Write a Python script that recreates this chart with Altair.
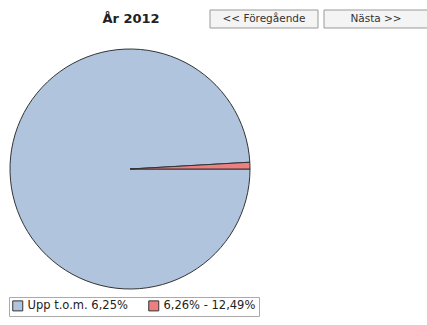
import altair as alt
import pandas as pd

categories = ["Upp t.o.m. 6,25%", "6,26% - 12,49%"]
values = [99.1, 0.9]
colors = ["#B0C4DE", "#EE7F80"]
title_text = "År 2012"
buttons = ["<< Föregående", "Nästa >>"]

df = pd.DataFrame({"kat": categories, "v": values, "ord": [0, 1]})

pie = alt.Chart(df).mark_arc(outerRadius=120, stroke="#333333", strokeWidth=1).encode(
    theta=alt.Theta("v:Q", stack=True, scale=alt.Scale(range=[1.5708, 1.5708 + 6.28319])),
    order=alt.Order("ord:Q"),
    color=alt.Color(
        "kat:N",
        scale=alt.Scale(domain=categories, range=colors),
        sort=categories,
        legend=alt.Legend(
            title=None, orient="none", legendX=9, legendY=297, direction="horizontal",
            symbolType="square", symbolSize=100, symbolStrokeColor="#333", symbolStrokeWidth=1,
            labelFont="DejaVu Sans", labelFontSize=11.5, labelColor="#222",
            strokeColor="#aaaaaa", padding=3, columnPadding=18, labelLimit=200,
            symbolOffset=0,
        ),
    ),
    x=alt.value(130),
    y=alt.value(169),
)

title = alt.Chart(pd.DataFrame({"t": [title_text]})).mark_text(
    font="DejaVu Sans", fontSize=13, fontWeight="bold", color="#222"
).encode(text="t:N", x=alt.value(131), y=alt.value(19))

bdf = pd.DataFrame({"b": buttons, "x1": [210, 324], "x2": [318, 428], "xc": [264, 376]})
brect = alt.Chart(bdf).mark_rect(fill="#f4f4f4", stroke="#999999", strokeWidth=1).encode(
    x=alt.X("x1:Q", scale=None), x2="x2:Q", y=alt.value(10), y2=alt.value(28)
)
btext = alt.Chart(bdf).mark_text(font="DejaVu Sans", fontSize=10.5, color="#333").encode(
    x=alt.X("xc:Q", scale=None), y=alt.value(19), text="b:N"
)

chart = alt.layer(pie, title, brect, btext).properties(
    width=427, height=325, padding=0, autosize=alt.AutoSizeParams(type="none")
).configure_view(stroke=None)

chart.save("out.html", embed_options={"renderer": "svg", "actions": False})
